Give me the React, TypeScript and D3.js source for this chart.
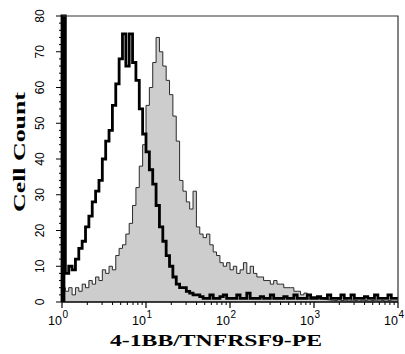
import React, { useRef, useEffect } from 'react';
import * as d3 from 'd3';

// histogram channels, 0.04 decade per bin from 10^0 to 10^4
const isotypeCounts: number[] = [
  95, 8, 10, 9, 12, 15, 17, 21, 24, 28,
  31, 34, 40, 45, 48, 55, 61, 68, 75, 66,
  75, 67, 62, 54, 47, 42, 37, 33, 27, 21,
  17, 13, 10, 7, 5, 4, 4, 3, 2.5, 2,
  2, 1.5, 1, 1, 2, 1, 1, 1.5, 2, 1,
  1, 1, 2, 1, 1, 2.5, 1, 1, 1, 1.5,
  1, 1, 2, 1, 1, 1, 1.5, 1, 1, 2,
  1, 1, 1, 2, 1, 1, 1.5, 1, 1, 2,
  1, 1, 1, 2, 1, 1, 2, 1, 1, 1,
  1.5, 1, 1, 2, 1, 1, 1, 2, 1, 1,
];

const stainedCounts: number[] = [
  4, 3, 4, 2, 4, 3, 5, 4, 6, 5,
  7, 6, 9, 8, 10, 9, 13, 15, 16, 19,
  22, 27, 32, 38, 44, 55, 60, 67, 74, 70,
  66, 62, 58, 52, 45, 34, 31, 28, 26, 31,
  21, 19, 18, 19, 16, 14, 13, 11, 10, 11,
  9, 10, 8, 9, 11, 8, 10, 8, 7, 7,
  6, 6, 5, 6, 5, 5, 4, 4, 4, 3,
  3, 2, 2.5, 2, 1.5, 1.5, 1, 1, 0.8, 0.6,
  0.5, 0.4, 0.6, 0.4, 0.5, 0.3, 0.5, 0.4, 0.3, 0.5,
  0.4, 0.3, 0.4, 0.5, 0.3, 0.4, 0.3, 0.4, 0.3, 0.3,
];

const xDecades: number[] = [1, 10, 100, 1000, 10000];
const xExponents: string[] = ['0', '1', '2', '3', '4'];
const yTicks: number[] = [0, 10, 20, 30, 40, 50, 60, 70, 80];

const App = () => {
  const svgRef = useRef<SVGSVGElement>(null);

  useEffect(() => {
    const svg = d3.select(svgRef.current);
    svg.selectAll('*').remove();

    const left = 62, right = 398, top = 16, bottom = 302;
    const yMax = 80;
    const x = d3.scaleLog().domain([1, 10000]).range([left, right]);
    const y = d3.scaleLinear().domain([0, yMax]).range([bottom, top]).clamp(true);

    // turn counts into step points; last point closes the final bin
    const toPoints = (counts: number[]) => {
      const step = 4 / counts.length;
      const pts: [number, number][] = counts.map((c, i) => [Math.pow(10, i * step), c]);
      pts.push([10000, counts[counts.length - 1]]);
      return pts;
    };

    const stained = toPoints(stainedCounts);
    const isotype = toPoints(isotypeCounts);

    const area = d3.area<[number, number]>()
      .x(d => x(d[0]))
      .y0(y(0))
      .y1(d => y(d[1]))
      .curve(d3.curveStepAfter);

    const line = d3.line<[number, number]>()
      .x(d => x(d[0]))
      .y(d => y(d[1]))
      .curve(d3.curveStepAfter);

    svg.append('path')
      .attr('d', area(stained))
      .attr('fill', '#cdcdcd');

    svg.append('path')
      .attr('d', line([[1, 0], ...stained]))
      .attr('fill', 'none')
      .attr('stroke', '#2a2a2a')
      .attr('stroke-width', 1);

    // off-scale channels of the isotype pile up as a solid bar
    const offScale = isotype.slice(0, -1)
      .map((p, i) => ({ x0: p[0], x1: isotype[i + 1][0], c: p[1] }))
      .filter(d => d.c > yMax);
    svg.selectAll('.offscale').data(offScale).enter().append('rect')
      .attr('x', d => x(d.x0))
      .attr('width', d => x(d.x1) - x(d.x0))
      .attr('y', y(yMax))
      .attr('height', y(0) - y(yMax))
      .attr('fill', '#000');

    svg.append('path')
      .attr('d', line([[1, 0], ...isotype]))
      .attr('fill', 'none')
      .attr('stroke', '#000')
      .attr('stroke-width', 2.8)
      .attr('stroke-linejoin', 'miter');

    // frame
    svg.append('path')
      .attr('d', `M${left},${top}H${right}V${bottom}`)
      .attr('fill', 'none')
      .attr('stroke', '#333')
      .attr('stroke-width', 1.2);

    // axes
    const axisG = svg.append('g');
    axisG.append('line')
      .attr('x1', left).attr('x2', left).attr('y1', top).attr('y2', bottom)
      .attr('stroke', '#000').attr('stroke-width', 1.5);
    axisG.append('line')
      .attr('x1', left).attr('x2', right).attr('y1', bottom).attr('y2', bottom)
      .attr('stroke', '#000').attr('stroke-width', 1.5);

    // y ticks, minor every 2
    const yMinor = d3.range(0, yMax + 1, 2);
    axisG.selectAll('.ytick').data(yMinor).enter().append('line')
      .attr('x1', d => (d % 10 === 0 ? left - 6 : left - 3))
      .attr('x2', left)
      .attr('y1', d => y(d)).attr('y2', d => y(d))
      .attr('stroke', '#000').attr('stroke-width', 1);

    axisG.selectAll('.ylab').data(yTicks).enter().append('text')
      .attr('transform', d => `translate(44,${y(d)}) rotate(-90)`)
      .attr('text-anchor', 'middle')
      .style('font-family', 'Liberation Sans, Arial, sans-serif')
      .style('font-size', '12px')
      .text(d => d);

    // x ticks, log minors
    const xMinor: number[] = [];
    for (let k = 0; k < 4; k++) {
      for (let m = 2; m <= 9; m++) xMinor.push(m * Math.pow(10, k));
    }
    axisG.selectAll('.xminor').data(xMinor).enter().append('line')
      .attr('x1', d => x(d)).attr('x2', d => x(d))
      .attr('y1', bottom).attr('y2', bottom + 3)
      .attr('stroke', '#000').attr('stroke-width', 1);
    axisG.selectAll('.xmajor').data(xDecades).enter().append('line')
      .attr('x1', d => x(d)).attr('x2', d => x(d))
      .attr('y1', bottom).attr('y2', bottom + 6)
      .attr('stroke', '#000').attr('stroke-width', 1.2);

    const xl = axisG.selectAll('.xlab').data(xDecades).enter().append('g')
      .attr('transform', d => `translate(${x(d)},0)`);
    xl.append('text')
      .attr('x', 0).attr('y', 325)
      .attr('text-anchor', 'end')
      .style('font-family', 'Liberation Sans, Arial, sans-serif')
      .style('font-size', '12.5px')
      .text('10');
    xl.append('text')
      .attr('x', 0.5).attr('y', 318)
      .style('font-family', 'Liberation Sans, Arial, sans-serif')
      .style('font-size', '10px')
      .text((d, i) => xExponents[i]);

    // titles
    svg.append('text')
      .attr('transform', 'translate(25,152) rotate(-90)')
      .attr('text-anchor', 'middle')
      .attr('textLength', 120)
      .attr('lengthAdjust', 'spacingAndGlyphs')
      .style('font-family', 'Liberation Serif, Times New Roman, serif')
      .style('font-weight', 'bold')
      .style('font-size', '17px')
      .text('Cell Count');

    svg.append('text')
      .attr('x', 216).attr('y', 346)
      .attr('text-anchor', 'middle')
      .attr('textLength', 212)
      .attr('lengthAdjust', 'spacingAndGlyphs')
      .style('font-family', 'Liberation Serif, Times New Roman, serif')
      .style('font-weight', 'bold')
      .style('font-size', '17px')
      .text('4-1BB/TNFRSF9-PE');
  }, []);

  return (
    <svg
      ref={svgRef}
      width={405}
      height={354}
      style={{ position: 'absolute', left: 0, top: 0, background: '#fff' }}
    />
  );
};

export default App;
